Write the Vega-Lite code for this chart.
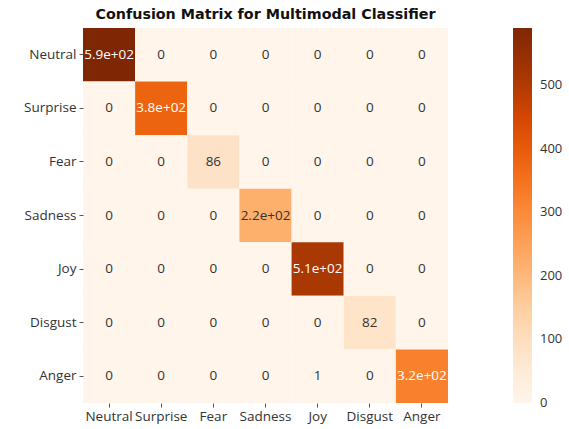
{
  "$schema": "https://vega.github.io/schema/vega-lite/v6.json",
  "autosize": "none",
  "width": 365,
  "height": 375,
  "padding": {"left": 83, "top": 28, "right": 121, "bottom": 26},
  "background": "white",
  "title": {"text": "Confusion Matrix for Multimodal Classifier", "font": "DejaVu Sans", "fontSize": 14.3, "fontWeight": "bold", "color": "#111111", "anchor": "middle", "offset": 6},
  "config": {"view": {"stroke": null}},
  "data": {"values": [
    {"t":"Neutral","p":"Neutral","v":590,"l":"5.9e+02"},{"t":"Neutral","p":"Surprise","v":0,"l":"0"},{"t":"Neutral","p":"Fear","v":0,"l":"0"},{"t":"Neutral","p":"Sadness","v":0,"l":"0"},{"t":"Neutral","p":"Joy","v":0,"l":"0"},{"t":"Neutral","p":"Disgust","v":0,"l":"0"},{"t":"Neutral","p":"Anger","v":0,"l":"0"},
    {"t":"Surprise","p":"Neutral","v":0,"l":"0"},{"t":"Surprise","p":"Surprise","v":380,"l":"3.8e+02"},{"t":"Surprise","p":"Fear","v":0,"l":"0"},{"t":"Surprise","p":"Sadness","v":0,"l":"0"},{"t":"Surprise","p":"Joy","v":0,"l":"0"},{"t":"Surprise","p":"Disgust","v":0,"l":"0"},{"t":"Surprise","p":"Anger","v":0,"l":"0"},
    {"t":"Fear","p":"Neutral","v":0,"l":"0"},{"t":"Fear","p":"Surprise","v":0,"l":"0"},{"t":"Fear","p":"Fear","v":86,"l":"86"},{"t":"Fear","p":"Sadness","v":0,"l":"0"},{"t":"Fear","p":"Joy","v":0,"l":"0"},{"t":"Fear","p":"Disgust","v":0,"l":"0"},{"t":"Fear","p":"Anger","v":0,"l":"0"},
    {"t":"Sadness","p":"Neutral","v":0,"l":"0"},{"t":"Sadness","p":"Surprise","v":0,"l":"0"},{"t":"Sadness","p":"Fear","v":0,"l":"0"},{"t":"Sadness","p":"Sadness","v":220,"l":"2.2e+02"},{"t":"Sadness","p":"Joy","v":0,"l":"0"},{"t":"Sadness","p":"Disgust","v":0,"l":"0"},{"t":"Sadness","p":"Anger","v":0,"l":"0"},
    {"t":"Joy","p":"Neutral","v":0,"l":"0"},{"t":"Joy","p":"Surprise","v":0,"l":"0"},{"t":"Joy","p":"Fear","v":0,"l":"0"},{"t":"Joy","p":"Sadness","v":0,"l":"0"},{"t":"Joy","p":"Joy","v":510,"l":"5.1e+02"},{"t":"Joy","p":"Disgust","v":0,"l":"0"},{"t":"Joy","p":"Anger","v":0,"l":"0"},
    {"t":"Disgust","p":"Neutral","v":0,"l":"0"},{"t":"Disgust","p":"Surprise","v":0,"l":"0"},{"t":"Disgust","p":"Fear","v":0,"l":"0"},{"t":"Disgust","p":"Sadness","v":0,"l":"0"},{"t":"Disgust","p":"Joy","v":0,"l":"0"},{"t":"Disgust","p":"Disgust","v":82,"l":"82"},{"t":"Disgust","p":"Anger","v":0,"l":"0"},
    {"t":"Anger","p":"Neutral","v":0,"l":"0"},{"t":"Anger","p":"Surprise","v":0,"l":"0"},{"t":"Anger","p":"Fear","v":0,"l":"0"},{"t":"Anger","p":"Sadness","v":0,"l":"0"},{"t":"Anger","p":"Joy","v":1,"l":"1"},{"t":"Anger","p":"Disgust","v":0,"l":"0"},{"t":"Anger","p":"Anger","v":320,"l":"3.2e+02"}
  ]},
  "encoding": {
    "x": {"field": "p", "type": "nominal", "sort": ["Neutral","Surprise","Fear","Sadness","Joy","Disgust","Anger"], "title": null,
      "axis": {"labelAngle": 0, "labelFont": "Open Sans", "labelFontSize": 13.5, "labelColor": "#333333", "domain": false, "ticks": true, "tickColor": "#555555", "tickSize": 4, "labelPadding": 2}},
    "y": {"field": "t", "type": "nominal", "sort": ["Neutral","Surprise","Fear","Sadness","Joy","Disgust","Anger"], "title": null,
      "axis": {"labelFont": "Open Sans", "labelFontSize": 13.5, "labelColor": "#333333", "domain": false, "ticks": true, "tickColor": "#555555", "tickSize": 4, "labelPadding": 3}}
  },
  "layer": [
    {
      "mark": {"type": "rect"},
      "encoding": {
        "color": {"field": "v", "type": "quantitative",
          "scale": {"domain": [0, 73.75, 147.5, 221.25, 295, 368.75, 442.5, 516.25, 590], "range": ["#fff5eb", "#fee6ce", "#fdd0a2", "#fdae6b", "#fd8d3c", "#f16913", "#d94801", "#a63603", "#7f2704"], "interpolate": "rgb"},
          "legend": {"type": "gradient", "title": null, "gradientLength": 375, "gradientThickness": 19, "offset": 65, "values": [0,100,200,300,400,500], "labelFont": "Open Sans", "labelFontSize": 13, "labelColor": "#333333", "gradientStrokeWidth": 0, "direction": "vertical", "labelOffset": 8,
            "encode": {"labels": {"update": {"baseline": {"value": "middle"}}}}}
        }
      }
    },
    {
      "mark": {"type": "text", "font": "Open Sans", "fontSize": 13.5},
      "encoding": {
        "text": {"field": "l"},
        "color": {"condition": {"test": "datum.v > 300", "value": "#ffffff"}, "value": "#333333"}
      }
    }
  ]
}
